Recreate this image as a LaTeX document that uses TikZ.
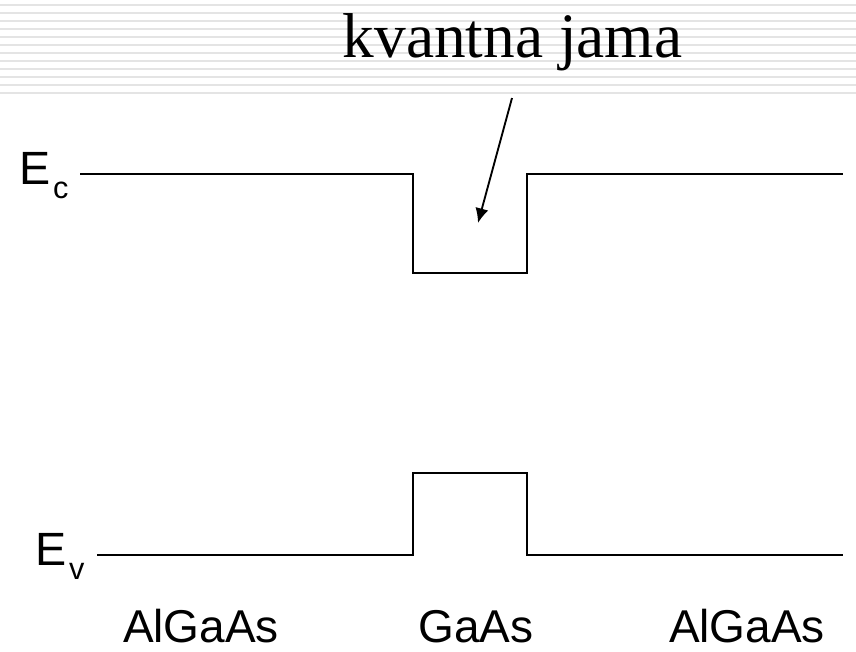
\documentclass[tikz,border=0pt]{standalone}
\usepackage{fontspec}
\setmainfont{Liberation Serif}
\newfontfamily\lsans{Liberation Sans}
\usetikzlibrary{arrows.meta}
\definecolor{stripe}{HTML}{E4E4E4}
\tikzset{
  band/.style={line width=1.5pt, black, line join=miter},
  stripeline/.style={line width=1.6pt, stripe},
  lbl/.style={inner sep=0pt, font=\lsans\fontsize{34.5pt}{36pt}\selectfont, anchor=base},
  elbl/.style={inner sep=0pt, font=\lsans\fontsize{35pt}{36pt}\selectfont, anchor=base west},
  ttl/.style={inner sep=0pt, font=\fontsize{47.5pt}{50pt}\selectfont, anchor=base},
  pointer/.style={line width=1.4pt, -{Latex[length=11pt,width=10pt]}}
}
\newcommand{\subsc}[1]{\kern2pt\raisebox{-10.5pt}{\fontsize{23pt}{24pt}\selectfont #1}}
\begin{document}
\begin{tikzpicture}[x=0.75pt,y=-0.75pt]
\useasboundingbox[fill=white] (0,0) rectangle (856,651);
\foreach \yy in {5,13,...,93} { \draw[stripeline] (0,\yy) -- (856,\yy); }
% title
\node[ttl] (title) at (512.5,57) {kvantna jama};
% labels
\node[elbl] (Ec) at (19,184) {E\subsc{c}};
\node[elbl] (Ev) at (35,565) {E\subsc{v}};
\node[lbl] (l1) at (201,642) {AlGaAs};
\node[lbl] (l2) at (476,642) {GaAs};
\node[lbl] (l3) at (747,642) {AlGaAs};
% conduction band
\coordinate (c0) at (80,174);
\coordinate (c1) at (412.5,174);
\coordinate (c2) at (412.5,273);
\coordinate (c3) at (527,273);
\coordinate (c4) at (527,174);
\coordinate (c5) at (843,174);
\draw[band] (c0) -- (c1) -- (c2) -- (c3) -- (c4) -- (c5);
% valence band
\coordinate (v0) at (97,555);
\coordinate (v1) at (412.5,555);
\coordinate (v2) at (412.5,473);
\coordinate (v3) at (527,473);
\coordinate (v4) at (527,555);
\coordinate (v5) at (843,555);
\draw[band] (v0) -- (v1) -- (v2) -- (v3) -- (v4) -- (v5);
% pointer
\coordinate (p0) at (512,98);
\coordinate (p1) at (478,223);
\draw[pointer] (p0) -- (p1);
\end{tikzpicture}
\end{document}
